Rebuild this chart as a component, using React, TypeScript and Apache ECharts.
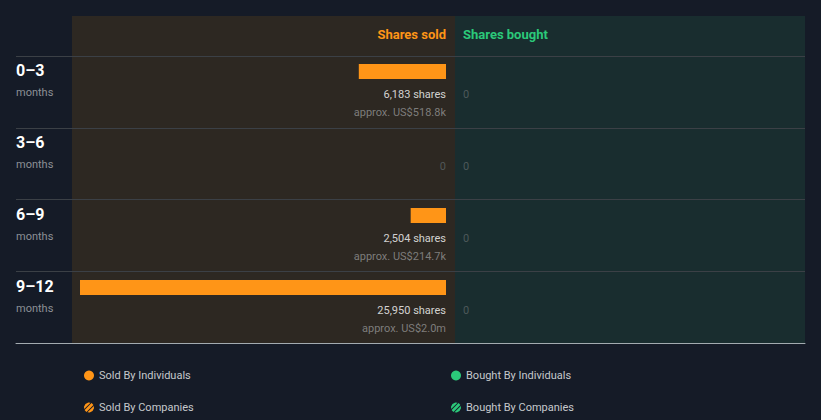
import React, { useEffect, useRef } from "react";
import * as echarts from "echarts";

const categories = ["0–3", "3–6", "6–9", "9–12"];
const rowUnit = "months";
const soldIndividuals = [6183, 0, 2504, 25950];
const soldCompanies = [0, 0, 0, 0];
const soldValueUsd = [518800, 0, 214700, 2000000];
const boughtIndividuals = [0, 0, 0, 0];
const boughtCompanies = [0, 0, 0, 0];
const boughtValueUsd = [0, 0, 0, 0];
const headerSold = "Shares sold";
const headerBought = "Shares bought";

const ORANGE = "#ff9517";
const GREEN = "#2bc97a";
const BG = "#151b27";
const HATCH =
  "path://M1.464,1.464L4.293,0.05L6.513,0.234L0.234,6.513L0.05,4.293Z M7.495,0.667L8.536,1.464L9.333,2.505L2.505,9.333L1.464,8.536L0.667,7.495Z M9.766,3.487L9.95,5.707L8.536,8.536L5.707,9.95L3.487,9.766Z";

function fmtUsd(v: number): string {
  if (v >= 1e6) return "US$" + (v / 1e6).toFixed(1) + "m";
  return "US$" + (v / 1e3).toFixed(1) + "k";
}

function labelText(shares: number, usd: number): string {
  if (shares <= 0) return "{z|0}";
  return `{s|${shares.toLocaleString("en-US")} shares}\n{u|approx. ${fmtUsd(usd)}}`;
}

const labelRich = {
  s: { color: "#ffffff", fontSize: 11, lineHeight: 18, fontFamily: "Roboto" },
  u: { color: "#949494", fontSize: 11, lineHeight: 18, fontFamily: "Roboto" },
  z: { color: "#5b6466", fontSize: 11, lineHeight: 18, fontFamily: "Roboto" },
};

export default function App() {
  const ref = useRef<HTMLDivElement>(null);
  useEffect(() => {
    document.body.style.margin = "0";
    document.body.style.background = BG;
    const chart = echarts.init(ref.current!, undefined, { renderer: "svg" });
    const maxV = Math.max(...soldIndividuals, ...boughtIndividuals);
    const soldTotals = soldIndividuals.map((v, i) => v + soldCompanies[i]);
    const boughtTotals = boughtIndividuals.map((v, i) => v + boughtCompanies[i]);
    const option: any = {
      animation: false,
      backgroundColor: BG,
      textStyle: { fontFamily: "Roboto" },
      graphic: {
        elements: [
          { type: "rect", z: -10, shape: { x: 72, y: 16, width: 383, height: 327 }, style: { fill: "#2d2822" } },
          { type: "rect", z: -10, shape: { x: 455, y: 16, width: 350, height: 327 }, style: { fill: "#192d2f" } },
          {
            type: "text", x: 446, y: 34,
            style: { text: headerSold, fill: ORANGE, fontSize: 13, fontWeight: "bold", fontFamily: "Roboto", align: "right", verticalAlign: "middle" },
          },
          {
            type: "text", x: 463, y: 34,
            style: { text: headerBought, fill: GREEN, fontSize: 13, fontWeight: "bold", fontFamily: "Roboto", align: "left", verticalAlign: "middle" },
          },
        ],
      },
      grid: [
        { left: 80, right: 375, top: 35.5, height: 288 },
        { left: 463, right: 16, top: 35.5, height: 288 },
        { left: 16, right: 16, top: 56, height: 287 },
      ],
      xAxis: [
        { gridIndex: 0, type: "value", inverse: true, min: 0, max: maxV, show: false },
        { gridIndex: 1, type: "value", min: 0, max: maxV, show: false },
        {
          gridIndex: 2, type: "value", min: 0, max: 1,
          axisLine: { show: true, onZero: false, lineStyle: { color: "#a3abb0", width: 1 } },
          axisTick: { show: false }, axisLabel: { show: false }, splitLine: { show: false },
        },
      ],
      yAxis: [
        {
          gridIndex: 0, type: "category", data: categories, inverse: true,
          axisLine: { show: false, onZero: false }, axisTick: { show: false }, splitLine: { show: false },
          axisLabel: {
            interval: 0, align: "left", margin: 64, verticalAlign: "middle", padding: [21, 0, 0, 0],
            formatter: (v: string) => `{a|${v}}\n{b|${rowUnit}}`,
            rich: {
              a: { color: "#ffffff", fontSize: 16, fontWeight: "bold", lineHeight: 20, fontFamily: "Roboto" },
              b: { color: "#8c9096", fontSize: 11, lineHeight: 24, fontFamily: "Roboto" },
            },
          },
        },
        { gridIndex: 1, type: "category", data: categories, inverse: true, show: false },
        {
          gridIndex: 2, type: "category", data: categories, inverse: true,
          axisLine: { show: false }, axisTick: { show: false }, axisLabel: { show: false },
          splitLine: { show: true, lineStyle: { color: "#3b4046", width: 1 } },
        },
      ],
      legend: [
        {
          left: 84, top: 370, orient: "vertical", itemGap: 21, padding: 0,
          itemWidth: 10, itemHeight: 10,
          textStyle: { color: "#c6c9cc", fontSize: 11, fontFamily: "Roboto" },
          data: [
            { name: "Sold By Individuals", icon: "circle" },
            { name: "Sold By Companies", icon: HATCH },
          ],
        },
        {
          left: 451, top: 370, orient: "vertical", itemGap: 21, padding: 0,
          itemWidth: 10, itemHeight: 10,
          textStyle: { color: "#c6c9cc", fontSize: 11, fontFamily: "Roboto" },
          data: [
            { name: "Bought By Individuals", icon: "circle" },
            { name: "Bought By Companies", icon: HATCH },
          ],
        },
      ],
      series: [
        {
          name: "Sold By Individuals", type: "bar", xAxisIndex: 0, yAxisIndex: 0, stack: "sold",
          barWidth: 15, data: soldIndividuals, itemStyle: { color: ORANGE },
        },
        {
          name: "Sold By Companies", type: "bar", xAxisIndex: 0, yAxisIndex: 0, stack: "sold",
          barWidth: 15, data: soldCompanies, itemStyle: { color: ORANGE },
        },
        {
          name: "Bought By Individuals", type: "bar", xAxisIndex: 1, yAxisIndex: 1, stack: "bought",
          barWidth: 15, data: boughtIndividuals, itemStyle: { color: GREEN },
        },
        {
          name: "Bought By Companies", type: "bar", xAxisIndex: 1, yAxisIndex: 1, stack: "bought",
          barWidth: 15, data: boughtCompanies, itemStyle: { color: GREEN },
        },
        {
          name: "soldLabels", type: "scatter", xAxisIndex: 0, yAxisIndex: 0, symbolSize: 0,
          silent: true,
          data: categories.map((c) => [0, c]),
          label: {
            show: true, position: "inside", align: "right", verticalAlign: "top", offset: [0, 13.5],
            formatter: (p: any) => labelText(soldTotals[p.dataIndex], soldValueUsd[p.dataIndex]),
            rich: labelRich,
          },
        },
        {
          name: "boughtLabels", type: "scatter", xAxisIndex: 1, yAxisIndex: 1, symbolSize: 0,
          silent: true,
          data: categories.map((c) => [0, c]),
          label: {
            show: true, position: "inside", align: "left", verticalAlign: "top", offset: [0, 13.5],
            formatter: (p: any) => labelText(boughtTotals[p.dataIndex], boughtValueUsd[p.dataIndex]),
            rich: labelRich,
          },
        },
      ],
    };
    chart.setOption(option);
    return () => chart.dispose();
  }, []);
  return (
    <div
      ref={ref}
      style={{ position: "absolute", left: 0, top: 0, width: 821, height: 420 }}
    />
  );
}
